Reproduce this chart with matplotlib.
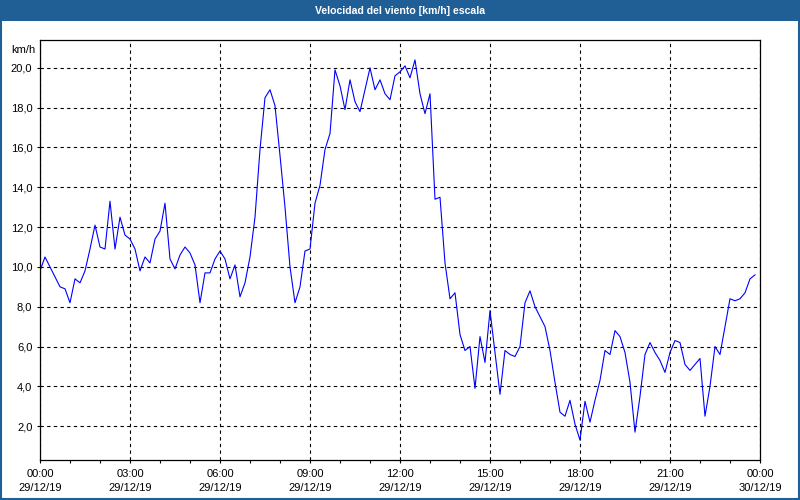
from __future__ import annotations

import matplotlib

matplotlib.use("Agg")
import matplotlib.dates as mdates
import matplotlib.pyplot as plt
import pandas as pd
from matplotlib.patches import Rectangle
from matplotlib.ticker import FuncFormatter, MultipleLocator


COLORS = {
    "bar": "#1F5F96",
    "title": "#FFFFFF",
    "text": "#000000",
    "grid": "#000000",
    "line": "#0000FF",
}

TITLE = "Velocidad del viento [km/h] escala"
UNIT = "km/h"
START = "2019-12-29 00:00"
END = "2019-12-30 00:00"
STEP = "10min"

# 10-minute readings, split by six-hour block
wind_00_06 = [9.8, 10.5, 10.0, 9.5, 9.0, 8.9, 8.2, 9.4, 9.2, 9.8, 10.9, 12.1,
              11.0, 10.9, 13.3, 10.9, 12.5, 11.6, 11.4, 10.9, 9.8, 10.5, 10.2,
              11.4, 11.8, 13.2, 10.4, 9.9, 10.6, 11.0, 10.7, 10.1, 8.2, 9.7,
              9.7, 10.4, 10.8]
wind_06_12 = [10.4, 9.4, 10.1, 8.5, 9.2, 10.5, 12.5, 15.9, 18.5, 18.9, 18.1,
              15.6, 13.0, 10.0, 8.2, 9.0, 10.8, 10.9, 13.2, 14.1, 15.9, 16.7,
              19.9, 19.1, 17.9, 19.4, 18.3, 17.8, 18.9, 20.0, 18.9, 19.4, 18.7,
              18.4, 19.6, 19.8]
wind_12_18 = [20.1, 19.5, 20.4, 18.7, 17.7, 18.7, 13.4, 13.5, 10.2, 8.4, 8.7,
              6.6, 5.8, 6.0, 3.9, 6.5, 5.2, 7.8, 5.7, 3.6, 5.8, 5.6, 5.5, 6.0,
              8.2, 8.8, 8.0, 7.5, 7.0, 5.8, 4.2, 2.7, 2.5, 3.3, 2.1]
wind_18_24 = [1.3, 3.25, 2.2, 3.3, 4.3, 5.8, 5.6, 6.8, 6.5, 5.7, 4.2, 1.7, 3.5,
              5.6, 6.2, 5.7, 5.3, 4.7, 5.7, 6.3, 6.2, 5.1, 4.8, 5.1, 5.4, 2.5,
              4.0, 6.0, 5.6, 7.0, 8.4, 8.3, 8.4, 8.7, 9.4, 9.6]

wind_kmh = wind_00_06 + wind_06_12 + wind_12_18 + wind_18_24
times = pd.date_range(START, periods=len(wind_kmh), freq=STEP)

plt.rcParams.update(
    {
        "font.family": ["Liberation Sans", "DejaVu Sans"],
        "font.size": 8,
        "xtick.color": COLORS["text"],
        "ytick.color": COLORS["text"],
    }
)

fig = plt.figure(figsize=(8, 5), dpi=100)

# title bar and window frame
fig.patches.append(Rectangle((0, 0.958), 1, 0.042, transform=fig.transFigure,
                             facecolor=COLORS["bar"], edgecolor="none", zorder=0))
fig.patches.append(Rectangle((0.001, 0.002), 0.998, 0.996, transform=fig.transFigure,
                             facecolor="none", edgecolor=COLORS["bar"],
                             linewidth=1.5, zorder=0))
fig.text(0.5, 0.979, TITLE, ha="center", va="center", color=COLORS["title"],
         fontsize=7.6, fontweight="bold")

ax = fig.add_axes([0.05, 0.08, 0.90, 0.84])
ax.plot(times, wind_kmh, color=COLORS["line"], linewidth=0.8)

ax.set_xlim(pd.Timestamp(START), pd.Timestamp(END))
ax.set_ylim(0.3, 21.4)

ax.xaxis.set_major_locator(mdates.HourLocator(byhour=range(0, 24, 3)))
ax.xaxis.set_minor_locator(mdates.HourLocator())
ax.xaxis.set_major_formatter(mdates.DateFormatter("%H:%M\n%d/%m/%y"))
ax.yaxis.set_major_locator(MultipleLocator(2))
ax.yaxis.set_major_formatter(
    FuncFormatter(lambda v, _: "" if v < 1 else f"{v:.1f}".replace(".", ",")))

ax.grid(True, which="major", color=COLORS["grid"], linestyle=(0, (3, 3)),
        linewidth=0.8)
for spine in ax.spines.values():
    spine.set_color(COLORS["text"])
    spine.set_linewidth(0.9)

ax.tick_params(axis="x", which="both", direction="out", length=2.5, width=0.8,
               pad=4, labelsize=8)
ax.tick_params(axis="y", direction="out", length=2, width=0.8, pad=3.5,
               labelsize=8)
for tick in ax.xaxis.get_major_ticks():
    tick.label1.set_linespacing(1.45)

ax.annotate(UNIT, xy=(0, 1), xycoords="axes fraction", xytext=(-3, -7),
            textcoords="offset points", ha="right", va="center", fontsize=8)

fig.savefig("out.png", dpi=100)
